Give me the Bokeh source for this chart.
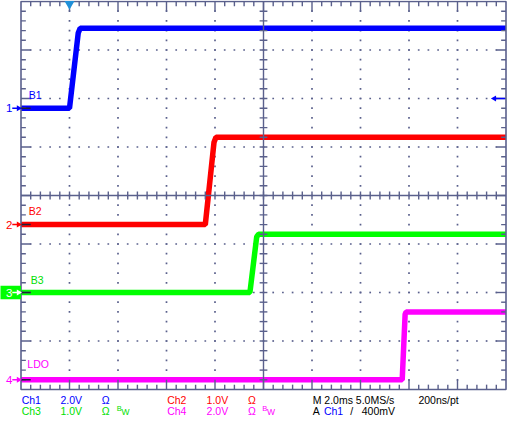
from bokeh.plotting import figure
from bokeh.models import Range1d
from bokeh.core.properties import value
from bokeh.embed import file_html
from bokeh.resources import INLINE
import math

# ---------------- data ----------------
channels = ["Ch1", "Ch2", "Ch3", "Ch4"]
trace_names = ["B1", "B2", "B3", "LDO"]
volts_per_div = [2.0, 1.0, 1.0, 2.0]
ground_div = [5.8, 3.4, 2.0, 0.2]          # ground marker, divisions from bottom
colors = ["#0000ff", "#ff0000", "#00ff00", "#ff00ff"]

ch1_t = [-2.0, 0.0, 0.36, 0.44, 18.0]
ch1_v = [0.0, 0.0, 3.1, 3.3, 3.3]
ch2_t = [-2.0, 5.6, 5.96, 6.04, 18.0]
ch2_v = [0.0, 0.0, 1.7, 1.8, 1.8]
ch3_t = [-2.0, 7.44, 7.72, 7.8, 18.0]
ch3_v = [0.0, 0.0, 1.15, 1.2, 1.2]
ch4_t = [-2.0, 13.72, 13.84, 13.88, 18.0]
ch4_v = [0.0, 0.0, 2.7, 2.8, 2.8]
traces_t = [ch1_t, ch2_t, ch3_t, ch4_t]
traces_v = [ch1_v, ch2_v, ch3_v, ch4_v]

time_per_div_ms = 2.0
t_start = -2.0
n_div_x, n_div_y = 10, 8
trigger_time_ms = 0.0
trigger_level_v = 0.4

row1_texts = ["Ch1", "2.0V", "Ω", "Ch2", "1.0V", "Ω", "M 2.0ms 5.0MS/s", "200ns/pt"]
row1_colors = ["#0000ff", "#0000ff", "#0000ff", "#ff0000", "#ff0000", "#ff0000", "#000000", "#000000"]
row2_texts = ["Ch3", "1.0V", "Ω", "Ch4", "2.0V", "Ω", "A", "Ch1", "/", "400mV"]
row2_colors = ["#00e000", "#00e000", "#00e000", "#ff00ff", "#ff00ff", "#ff00ff", "#000000", "#0000ff", "#000000", "#000000"]

# ---------------- layout ----------------
W, H = 507, 424
PX_DIV = 48.5
PX_MS = PX_DIV / time_per_div_ms
LEFT, TOP = 20.5, 1.0
t_end = t_start + n_div_x * time_per_div_ms
x0 = t_start - LEFT / PX_MS
y1 = n_div_y + TOP / PX_DIV
rows1_x = [22.7, 62.7, 105.3, 172.7, 213.3, 256, 322.7, 431.7]
rows2_x = [22.7, 62.7, 105.3, 172.7, 213.3, 256, 322.7, 334.3, 361.5, 373.3]
name_pos = [(30, 96.5), (30, 216), (32, 287.5), (28.5, 374)]

def X(rx):
    return t_start + (rx - 22) / 50 * time_per_div_ms

def Y(ry):
    return (400 - ry) / 50

GRID = "#5a608c"
FONT = value("Liberation Sans")
FS = "10.5px"

p = figure(width=W, height=H, output_backend="svg", toolbar_location=None,
           x_range=Range1d(x0, x0 + W / PX_MS), y_range=Range1d(y1 - H / PX_DIV, y1),
           x_axis_type=None, y_axis_type=None, min_border=0)
p.grid.visible = False
p.outline_line_color = None
p.background_fill_color = "white"

# dotted graticule
dx, dy = [], []
minor_t = [t_start + k * time_per_div_ms / 5 for k in range(1, n_div_x * 5)]
minor_y = [j / 5 for j in range(1, n_div_y * 5)]
for j in range(1, n_div_y):
    if j == n_div_y // 2:
        continue
    for t in minor_t:
        dx.append(t); dy.append(j)
for k in range(1, n_div_x):
    if k == n_div_x // 2:
        continue
    for yy in minor_y:
        dx.append(t_start + k * time_per_div_ms); dy.append(yy)
p.scatter(dx, dy, marker="square", size=1.7, fill_color=GRID, line_color=None)

# traces
for i in range(4):
    ys = [ground_div[i] + v / volts_per_div[i] for v in traces_v[i]]
    p.line(traces_t[i], ys, line_color=colors[i], line_width=5.5)

# border, center axes, ticks
p.quad(left=t_start, right=t_end, bottom=0, top=n_div_y, fill_color=None,
       line_color=GRID, line_width=1.6)
tc = t_start + n_div_x / 2 * time_per_div_ms
yc = n_div_y / 2
sx0, sy0, sx1, sy1 = [tc, t_start], [0, yc], [tc, t_end], [n_div_y, yc]
mn_t, mj_t = 0.2 * time_per_div_ms / 2, 0.4 * time_per_div_ms / 2
mn_y, mj_y = 0.1, 0.2
for k in range(1, n_div_x * 5):
    t = t_start + k * time_per_div_ms / 5
    ln = mj_y if k % 5 == 0 else mn_y
    sx0 += [t, t, t]; sx1 += [t, t, t]
    sy0 += [n_div_y, 0, yc - 0.08]; sy1 += [n_div_y - ln, ln, yc + 0.08]
for j in range(1, n_div_y * 5):
    yy = j / 5
    ln = mj_t if j % 5 == 0 else mn_t
    sy0 += [yy, yy, yy]; sy1 += [yy, yy, yy]
    sx0 += [t_start, t_end, tc - 0.16]; sx1 += [t_start + ln, t_end - ln, tc + 0.16]
p.segment(sx0, sy0, sx1, sy1, line_color=GRID, line_width=1.4)

# ground markers
for i in range(4):
    g = ground_div[i]
    p.segment([X(22)], [g], [X(32)], [g], line_color="#20203a", line_width=1.5)
    if i == 2:
        p.quad(left=[X(0)], right=[X(22)], top=[Y(293)], bottom=[Y(307)],
               fill_color=colors[i], line_color=None)
        mc = "white"
    else:
        mc = colors[i]
    p.text([X(6.5)], [g], text=[str(i + 1)], text_color=mc, text_font=FONT,
           text_font_size="11.5px", text_baseline="middle", text_align="left")
    p.segment([X(13)], [g], [X(20)], [g], line_color=mc, line_width=1.5)
    p.scatter([X(19.5)], [g], marker="triangle", angle=-math.pi / 2, size=6,
              fill_color=mc, line_color=None)

# trace names
for i in range(4):
    p.text([X(name_pos[i][0])], [Y(name_pos[i][1])], text=[trace_names[i]],
           text_color=colors[i] if i != 2 else "#00e000", text_font=FONT, text_font_size=FS,
           text_baseline="middle", text_align="left")

# trigger position & level markers
p.scatter([trigger_time_ms], [Y(2.5)], marker="inverted_triangle", size=10,
          fill_color="#2090d8", line_color=None)
tl = ground_div[0] + trigger_level_v / volts_per_div[0]
p.segment([X(510)], [tl], [X(521)], [tl], line_color="#0000ff", line_width=1.5)
p.scatter([X(510)], [tl], marker="triangle", angle=math.pi / 2, size=6,
          fill_color="#0000ff", line_color=None)

# readout
p.text([X(x) for x in rows1_x], [Y(410.5)] * len(row1_texts), text=row1_texts,
       text_color=row1_colors, text_font=FONT, text_font_size=FS,
       text_baseline="middle", text_align="left")
p.text([X(x) for x in rows2_x], [Y(422)] * len(row2_texts), text=row2_texts,
       text_color=row2_colors, text_font=FONT, text_font_size=FS,
       text_baseline="middle", text_align="left")
for bx, c in [(120.7, "#00e000"), (270.7, "#ff00ff")]:
    p.text([X(bx)], [Y(419.5)], text=["B"], text_color=c, text_font=FONT,
           text_font_size="7.5px", text_baseline="middle", text_align="left")
    p.text([X(bx + 5)], [Y(423)], text=["W"], text_color=c, text_font=FONT,
           text_font_size="8.5px", text_baseline="middle", text_align="left")

open("out.html", "w").write(file_html(p, INLINE))
